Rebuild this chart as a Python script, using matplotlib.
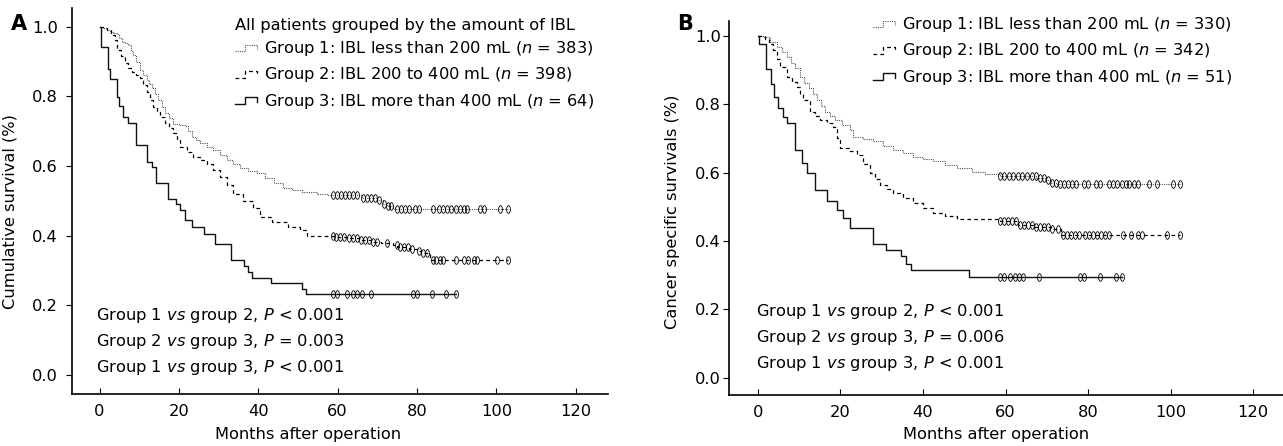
import numpy as np
import matplotlib
matplotlib.use("Agg")
import matplotlib.pyplot as plt
from matplotlib.lines import Line2D
from matplotlib.legend_handler import HandlerBase
from matplotlib.path import Path
from matplotlib.transforms import Affine2D

plt.rcParams["font.family"] = ["DejaVu Sans"]
plt.rcParams["font.size"] = 11.7

# ---- panel A: overall survival by IBL group ----
a1_t = [0, 1.0, 2.0, 2.6, 3.5, 4.3, 5.0, 5.6, 6.5, 7.3, 8.0, 8.5, 9.3, 10.2, 11.0, 11.9,
        12.5, 13.1, 14.0, 14.8, 15.7, 16.5, 17.5, 18.6, 20.0, 21.5, 22.3, 23.2, 24.2, 25.3,
        27.0, 28.7, 30.3, 32.0, 33.7, 35.4, 37.5, 39.6, 41.8, 44.0, 46.3, 48.5, 51.0, 54.7,
        57.5, 66.0, 70.0, 71.5, 72.5, 74.0]
a1_s = [1.0, 0.995, 0.99, 0.986, 0.983, 0.978, 0.968, 0.957, 0.952, 0.947, 0.93, 0.919, 0.9,
        0.876, 0.862, 0.847, 0.835, 0.823, 0.806, 0.789, 0.77, 0.751, 0.737, 0.722, 0.718,
        0.715, 0.7, 0.684, 0.674, 0.665, 0.655, 0.646, 0.632, 0.617, 0.605, 0.593, 0.586,
        0.579, 0.565, 0.55, 0.536, 0.531, 0.526, 0.521, 0.516, 0.509, 0.502, 0.492, 0.485,
        0.478]
a1_cens = [58.9, 59.9, 60.9, 61.9, 62.9, 63.9, 64.9, 66.4, 67.5, 68.5, 69.5, 70.5, 71.7,
           72.7, 73.5, 74.9, 75.9, 76.9, 77.9, 79.5, 80.5, 84.0, 85.6, 86.6, 87.6, 88.6,
           89.7, 90.7, 91.7, 92.7, 95.8, 96.8, 100.9, 103.0]

a2_t = [0, 1.0, 1.9, 3.0, 3.9, 4.3, 5.3, 6.4, 7.2, 8.1, 9.2, 10.2, 11.0, 11.9, 12.8, 13.6,
        14.4, 15.2, 16.5, 17.5, 18.6, 19.5, 20.3, 22.0, 23.6, 25.3, 27.0, 28.7, 30.4, 32.0,
        33.7, 36.2, 38.7, 40.5, 43.5, 47.4, 50.5, 52.3, 59.5, 62.3, 65.3, 68.3, 71.0, 74.0,
        75.0, 78.0, 80.0, 81.0, 83.3]
a2_s = [1.0, 0.995, 0.99, 0.975, 0.962, 0.933, 0.915, 0.895, 0.882, 0.871, 0.862, 0.852,
        0.832, 0.813, 0.79, 0.77, 0.755, 0.741, 0.725, 0.71, 0.694, 0.675, 0.655, 0.64,
        0.626, 0.616, 0.607, 0.588, 0.569, 0.545, 0.521, 0.5, 0.48, 0.455, 0.44, 0.424,
        0.415, 0.4, 0.395, 0.392, 0.388, 0.383, 0.378, 0.373, 0.368, 0.363, 0.355, 0.349,
        0.33]
a2_cens = [58.9, 59.7, 60.7, 61.7, 62.8, 63.8, 64.8, 65.8, 66.8, 67.8, 68.8, 69.8, 72.5,
           74.9, 75.7, 76.7, 77.7, 78.7, 80.6, 81.6, 82.6, 83.9, 84.8, 85.8, 86.6, 89.8,
           91.8, 92.9, 94.3, 95.2, 100.1, 103.0]

a3_t = [0, 0.3, 2.1, 2.6, 4.3, 5.0, 6.0, 7.1, 9.3, 12.0, 13.1, 14.2, 17.3, 19.2, 20.3,
        21.5, 23.2, 26.2, 29.1, 33.1, 36.3, 37.3, 38.3, 43.3, 50.9, 52.1]
a3_s = [1.0, 0.943, 0.88, 0.85, 0.799, 0.772, 0.74, 0.725, 0.66, 0.612, 0.598, 0.552,
        0.506, 0.49, 0.475, 0.445, 0.424, 0.405, 0.376, 0.33, 0.314, 0.295, 0.278, 0.264,
        0.247, 0.233]
a3_cens = [58.9, 59.8, 62.3, 63.9, 64.9, 66.0, 68.5, 78.9, 79.9, 83.7, 87.4, 89.8]

# ---- panel B: cancer specific survival by IBL group ----
b1_t = [0, 1.5, 3.0, 4.6, 5.8, 7.0, 8.0, 9.0, 10.2, 11.2, 12.3, 13.3, 14.3, 15.3, 16.3,
        17.5, 18.7, 20.5, 22.3, 23.1, 25.5, 28.0, 30.4, 32.8, 35.2, 37.7, 40.1, 42.5, 45.3,
        48.2, 52.0, 55.0, 58.7, 67.5, 69.5, 71.0, 72.4]
b1_s = [1.0, 0.995, 0.982, 0.967, 0.952, 0.938, 0.92, 0.905, 0.88, 0.863, 0.846, 0.829,
        0.812, 0.795, 0.778, 0.766, 0.754, 0.74, 0.725, 0.705, 0.698, 0.691, 0.679, 0.667,
        0.657, 0.647, 0.64, 0.633, 0.623, 0.613, 0.603, 0.597, 0.591, 0.584, 0.577, 0.57,
        0.566]
b1_cens = [58.7, 59.7, 60.9, 61.9, 63.0, 64.1, 65.2, 66.3, 67.4, 68.4, 69.3, 70.3, 71.3,
           72.2, 73.2, 74.2, 75.1, 76.1, 77.1, 79.0, 80.0, 82.0, 83.0, 85.1, 86.1, 87.1,
           88.1, 89.1, 90.0, 91.0, 92.0, 94.8, 96.8, 100.6, 102.2]

b2_t = [0, 1.8, 2.8, 3.8, 4.6, 5.4, 7.0, 8.2, 9.4, 10.2, 11.0, 12.7, 13.9, 15.1, 16.7,
        18.3, 19.1, 19.9, 22.0, 24.0, 25.6, 27.2, 28.4, 29.6, 31.2, 32.8, 35.2, 37.7, 40.1,
        42.5, 45.3, 48.2, 58.7, 63.0, 67.0, 71.0, 73.5]
b2_s = [1.0, 0.99, 0.975, 0.958, 0.933, 0.909, 0.88, 0.865, 0.851, 0.83, 0.812, 0.778,
        0.765, 0.754, 0.744, 0.734, 0.7, 0.672, 0.662, 0.652, 0.625, 0.599, 0.582, 0.565,
        0.553, 0.541, 0.526, 0.511, 0.496, 0.482, 0.472, 0.463, 0.458, 0.448, 0.441, 0.434,
        0.419]
b2_cens = [58.7, 59.7, 60.7, 61.6, 62.6, 63.5, 64.5, 65.5, 66.4, 67.4, 68.4, 69.3, 70.3,
           71.3, 72.8, 73.9, 74.9, 75.9, 76.9, 77.9, 79.2, 80.2, 81.2, 82.2, 83.1, 84.1,
           85.1, 88.5, 90.5, 92.2, 93.1, 99.0, 102.2]

b3_t = [0, 0.3, 2.0, 3.1, 4.0, 5.0, 6.0, 7.0, 9.0, 10.7, 12.0, 13.9, 16.7, 19.1, 20.7,
        22.3, 28.0, 31.0, 34.8, 36.0, 37.1, 51.2]
b3_s = [1.0, 0.977, 0.902, 0.858, 0.822, 0.788, 0.764, 0.744, 0.665, 0.628, 0.599, 0.55,
        0.516, 0.492, 0.468, 0.439, 0.392, 0.373, 0.355, 0.333, 0.315, 0.296]
b3_cens = [58.7, 59.7, 61.1, 62.3, 63.3, 64.3, 68.0, 78.1, 79.0, 82.9, 86.8, 88.1]

legend_a = ["Group 1: IBL less than 200 mL ($\\it{n}$ = 383)",
            "Group 2: IBL 200 to 400 mL ($\\it{n}$ = 398)",
            "Group 3: IBL more than 400 mL ($\\it{n}$ = 64)"]
legend_b = ["Group 1: IBL less than 200 mL ($\\it{n}$ = 330)",
            "Group 2: IBL 200 to 400 mL ($\\it{n}$ = 342)",
            "Group 3: IBL more than 400 mL ($\\it{n}$ = 51)"]
pvals_a = ["Group 1 $\\it{vs}$ group 2, $\\it{P}$ < 0.001",
           "Group 2 $\\it{vs}$ group 3, $\\it{P}$ = 0.003",
           "Group 1 $\\it{vs}$ group 3, $\\it{P}$ < 0.001"]
pvals_b = ["Group 1 $\\it{vs}$ group 2, $\\it{P}$ < 0.001",
           "Group 2 $\\it{vs}$ group 3, $\\it{P}$ = 0.006",
           "Group 1 $\\it{vs}$ group 3, $\\it{P}$ < 0.001"]

styles = [
    dict(color="#555555", linewidth=0.8, linestyle=(0, (1, 1))),
    dict(color="black", linewidth=0.9, linestyle=(0, (3, 2.5))),
    dict(color="#111111", linewidth=1.0, linestyle="-"),
]

oval = Path.unit_circle().transformed(Affine2D().scale(0.5, 1.0))


def surv_at(times, surv, t):
    idx = np.searchsorted(times, t, side="right") - 1
    return np.asarray(surv)[idx]


def draw_group(ax, times, surv, cens, style):
    t = list(times) + [max(cens)]
    s = list(surv) + [surv[-1]]
    ax.step(t, s, where="post", **style)
    ax.plot(cens, surv_at(times, surv, cens), linestyle="none", marker=oval,
            markersize=5.5, markerfacecolor="none", markeredgecolor="black",
            markeredgewidth=0.6)


class StepHandler(HandlerBase):
    # small step glyph like the one in the original legend
    def create_artists(self, legend, orig_handle, xdescent, ydescent, width, height,
                       fontsize, trans):
        x0, y0 = -xdescent, -ydescent
        xs = [x0, x0 + 0.4 * width, x0 + 0.4 * width, x0 + 0.9 * width, x0 + 0.9 * width]
        ys = [y0 + 0.15 * height, y0 + 0.15 * height, y0 + 0.75 * height,
              y0 + 0.75 * height, y0 + 0.35 * height]
        line = Line2D(xs, ys)
        line.update_from(orig_handle)
        line.set_transform(trans)
        return [line]


def style_axes(ax, xlim, ylim, ypad):
    ax.set_xlim(*xlim)
    ax.set_ylim(*ylim)
    ax.spines["top"].set_visible(False)
    ax.spines["right"].set_visible(False)
    ax.spines["left"].set_linewidth(1.2)
    ax.spines["bottom"].set_linewidth(1.2)
    ax.set_xticks([0, 20, 40, 60, 80, 100, 120])
    ax.set_yticks([0.0, 0.2, 0.4, 0.6, 0.8, 1.0])
    ax.set_yticklabels(["%.1f" % v for v in [0.0, 0.2, 0.4, 0.6, 0.8, 1.0]])
    ax.tick_params(axis="x", direction="in", length=4, width=0.8, pad=7)
    ax.tick_params(axis="y", direction="out", length=4, width=0.8, pad=ypad)


fig = plt.figure(figsize=(12.83, 4.46), dpi=100)
axA = fig.add_axes([0.0559, 0.1159, 0.418, 0.8655])
axB = fig.add_axes([0.5684, 0.1143, 0.4316, 0.8393])

for t, s, c, st in zip([a1_t, a2_t, a3_t], [a1_s, a2_s, a3_s],
                       [a1_cens, a2_cens, a3_cens], styles):
    draw_group(axA, t, s, c, st)
for t, s, c, st in zip([b1_t, b2_t, b3_t], [b1_s, b2_s, b3_s],
                       [b1_cens, b2_cens, b3_cens], styles):
    draw_group(axB, t, s, c, st)

style_axes(axA, (-7.0, 128.1), (-0.0554, 1.053), 6)
style_axes(axB, (-6.9, 127.2), (-0.05, 1.044), 2)

axA.set_xlabel("Months after operation")
axA.xaxis.set_label_coords(0.4415, -0.085)
axA.set_ylabel("Cumulative survival (%)")
axA.yaxis.set_label_coords(-0.102, 0.4736)
axB.set_xlabel("Months after operation")
axB.xaxis.set_label_coords(0.4826, -0.085)
axB.set_ylabel("Cancer specific survivals (%)")
axB.yaxis.set_label_coords(-0.089, 0.49)

handles = [Line2D([], [], **st) for st in styles]
axA.text(0.3045, 0.955, "All patients grouped by the amount of IBL",
         transform=axA.transAxes, ha="left", va="center")
legA = axA.legend(handles, legend_a, loc="upper left", bbox_to_anchor=(0.3045, 0.92),
                  frameon=False, borderpad=0, borderaxespad=0, handlelength=1.5,
                  handletextpad=0.3, labelspacing=0.45,
                  handler_map={Line2D: StepHandler()})
legB = axB.legend(handles, legend_b, loc="upper left", bbox_to_anchor=(0.2595, 1.015),
                  frameon=False, borderpad=0, borderaxespad=0, handlelength=1.5,
                  handletextpad=0.3, labelspacing=0.45,
                  handler_map={Line2D: StepHandler()})

for i, txt in enumerate(pvals_a):
    axA.text(-1.0, 0.172 - i * 0.075, txt, ha="left", va="center")
for i, txt in enumerate(pvals_b):
    axB.text(-0.4, 0.195 - i * 0.076, txt, ha="left", va="center")

fig.text(18.5 / 1283, 1 - 24.5 / 446, "A", fontsize=15, fontweight="bold",
         ha="center", va="center")
fig.text(685.5 / 1283, 1 - 23.5 / 446, "B", fontsize=15, fontweight="bold",
         ha="center", va="center")

fig.savefig("out.png", dpi=100)
